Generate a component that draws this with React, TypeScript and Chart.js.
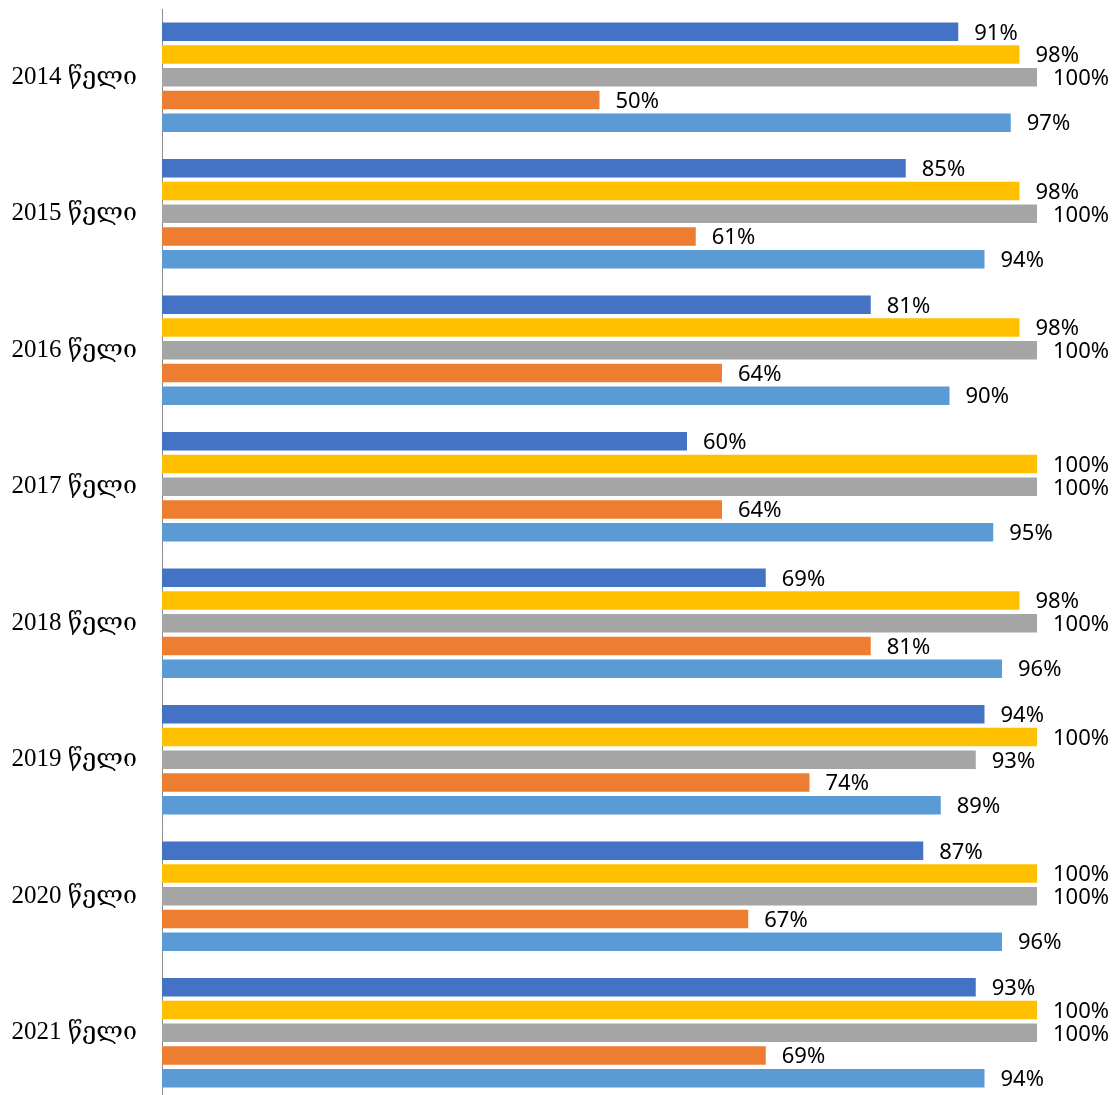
import React, { useEffect, useRef } from "react";
import { Chart, registerables } from "chart.js";

Chart.register(...registerables);

const categories = [
  "2014 წელი",
  "2015 წელი",
  "2016 წელი",
  "2017 წელი",
  "2018 წელი",
  "2019 წელი",
  "2020 წელი",
  "2021 წელი",
];

const series1 = [91, 85, 81, 60, 69, 94, 87, 93];
const series2 = [98, 98, 98, 100, 98, 100, 100, 100];
const series3 = [100, 100, 100, 100, 100, 93, 100, 100];
const series4 = [50, 61, 64, 64, 81, 74, 67, 69];
const series5 = [97, 94, 90, 95, 96, 89, 96, 94];

const seriesColors = ["#4472C4", "#FFC000", "#A5A5A5", "#ED7D31", "#5B9BD5"];

const W = 1114;
const H = 1102;

const valueLabels = {
  id: "valueLabels",
  afterDatasetsDraw(chart: any) {
    const ctx = chart.ctx;
    ctx.save();
    ctx.font = '22px "Noto Sans", "Open Sans", sans-serif';
    ctx.fillStyle = "#000000";
    ctx.textAlign = "left";
    ctx.textBaseline = "middle";
    chart.data.datasets.forEach((ds: any, di: number) => {
      const meta = chart.getDatasetMeta(di);
      meta.data.forEach((el: any, i: number) => {
        ctx.fillText(ds.data[i] + "%", el.x + 16, el.y + 1.5);
      });
    });
    ctx.restore();
  },
};

export default function App() {
  const ref = useRef<HTMLCanvasElement | null>(null);

  useEffect(() => {
    if (!ref.current) return;
    const all = [series1, series2, series3, series4, series5];
    const chart = new Chart(ref.current, {
      type: "bar",
      data: {
        labels: categories,
        datasets: all.map((d, i) => ({
          label: "s" + (i + 1),
          data: d,
          backgroundColor: seriesColors[i],
          borderWidth: 0,
          categoryPercentage: 0.833,
          barPercentage: 0.81,
        })),
      },
      options: {
        indexAxis: "y",
        animation: false,
        responsive: false,
        layout: { padding: { top: 9, right: 77, bottom: 1, left: 0 } },
        plugins: {
          legend: { display: false },
          tooltip: { enabled: false },
        },
        scales: {
          x: {
            display: false,
            min: 0,
            max: 100,
          },
          y: {
            grid: { display: false, drawTicks: false },
            border: { display: true, color: "#8c8c8c", width: 1 },
            ticks: {
              color: "#000000",
              padding: 25,
              font: { family: '"Liberation Serif", "DejaVu Serif", serif', size: 25 },
            },
            afterFit: (scale: any) => {
              scale.width = 162;
              scale.paddingTop = 0;
              scale.paddingBottom = 0;
            },
          },
        },
      },
      plugins: [valueLabels],
    });
    return () => chart.destroy();
  }, []);

  return (
    <div
      style={{
        position: "absolute",
        left: 0,
        top: 0,
        width: W,
        height: 1095,
        overflow: "hidden",
        background: "#ffffff",
      }}
    >
      <canvas ref={ref} width={W} height={H} style={{ display: "block" }} />
    </div>
  );
}
